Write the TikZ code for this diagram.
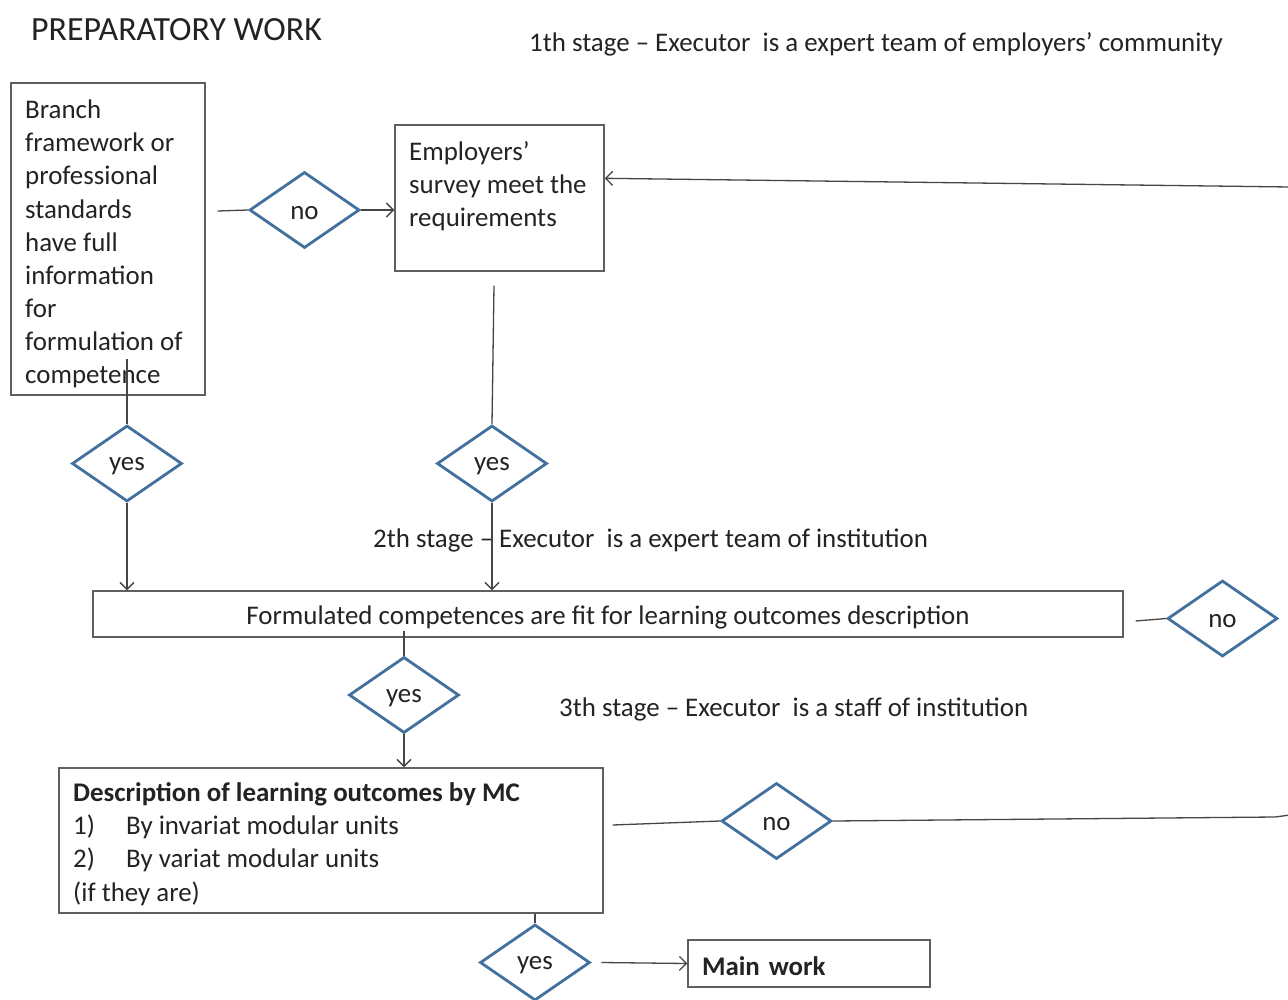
\documentclass[tikz,border=0pt]{standalone}
\usepackage{fontspec}
\setmainfont{Carlito}
\usetikzlibrary{shapes.geometric,arrows.meta,calc}

\definecolor{ink}{RGB}{35,35,35}
\definecolor{frame}{RGB}{95,95,95}
\definecolor{wire}{RGB}{70,70,70}
\definecolor{decblue}{RGB}{65,113,156}

% labels sit a little low inside their frames
\newcommand{\lowered}[1]{\raisebox{-3bp}[\height][\depth]{#1}}

\tikzset{
  txt/.style={text=ink,font=\fontsize{27}{33.3}\selectfont,inner sep=0pt},
  box/.style={draw=frame,line width=1.4bp,fill=white,text=ink,
              font=\fontsize{27}{33.3}\selectfont,inner sep=0pt},
  decision/.style={diamond,draw=decblue,line width=2.8bp,fill=white,
              minimum width=110bp,minimum height=76bp,inner sep=0pt,
              text=ink,font=\fontsize{27}{30}\selectfont},
  link/.style={draw=wire,line width=1.3bp},
  flow/.style={link,-{Straight Barb[length=7bp,width=14bp,line width=1.3bp]}},
}

\begin{document}
\begin{tikzpicture}[x=1bp,y=-1bp]
\useasboundingbox[fill=white] (0,0) rectangle (1288,1000);

% headings
\node[txt,anchor=west,font=\fontsize{34}{38}\selectfont] (title) at (31,30) {PREPARATORY WORK};
\node[txt,anchor=west] (stage1) at (529,44) {1th stage – Executor\ \ is a expert team of employers’ community};
\node[txt,anchor=west] (stage2) at (373,540) {2th stage – Executor\ \ is a expert team of institution};
\node[txt,anchor=west] (stage3) at (559,709) {3th stage – Executor\ \ is a staff of institution};

% first stage
\node[box,minimum width=194bp,minimum height=312bp] (A) at (108,239) {};
\node[txt,anchor=west,align=left] (Atext) at (25,244)
  {Branch\\framework or\\professional\\standards\\have full\\information\\for\\formulation of\\competence};
\node[box,minimum width=209bp,minimum height=146bp] (B) at (499.5,198) {};
\node[txt,anchor=north west,align=left] (Btext) at (409,141) {Employers’\\survey meet the\\requirements};

\node[decision] (no1) at (304.5,210) {\lowered{no}};
\node[decision] (yes1) at (127,463.5) {\lowered{yes}};
\node[decision] (yes2) at (492,463.5) {\lowered{yes}};

% second stage
\node[box,minimum width=1030bp,minimum height=46bp] (C) at (608,614)
  {\lowered{Formulated competences are fit for learning outcomes description}};
\node[decision] (no3) at (1222.5,618.5) {\lowered{no}};
\node[decision] (yes4) at (404,695) {\lowered{yes}};

% third stage
\node[box,minimum width=544bp,minimum height=145bp] (D) at (331,840.5) {};
\node[txt,anchor=west,align=left] (Dtext) at (73,844)
  {\textbf{Description of learning outcomes by MC}\\
   \makebox[53bp][l]{1)}By invariat modular units\\
   \makebox[53bp][l]{2)}By variat modular units\\
   (if they are)};
\node[decision] (no5) at (776.5,821) {\lowered{no}};
\node[decision] (yes6) at (535,962.5) {\lowered{yes}};
\node[box,minimum width=242bp,minimum height=47bp,text width=214bp,align=left,inner xsep=14bp] (M) at (809,963.5)
  {\lowered{\textbf{Main work}}};

% loose ends at the right margin
\coordinate (backIn) at (1290,187);
\coordinate (bend) at (1275,817);
\coordinate (backOut) at (1290,815);

% connectors
\draw[link] ($(A.east)+(12,-28)$) -- (no1.west);
\draw[flow] (no1.east) -- (B.west |- no1.east);
\draw[flow] (backIn) -- ($(B.north east)+(0,54)$);
\draw[link] ($(B.south)+(-5.5,14)$) -- (yes2.north);
\draw[link] ($(yes1.north)+(0,-65)$) -- (yes1.north);
\draw[flow] (yes1.south) -- (yes1.south |- C.north);
\draw[flow] (yes2.south) -- (yes2.south |- C.north);
\draw[link] ($(C.east)+(12,7)$) -- (no3.west);
\draw[link] ($(yes4.north |- C.south)+(0,-7)$) -- (yes4.north);
\draw[flow] (yes4.south) -- (yes4.south |- D.north);
\draw[link] ($(D.east)+(9,-15.5)$) -- (no5.west);
\draw[link] (no5.east) -- (bend) -- (backOut);
\draw[link] (yes6.north |- D.south) -- (yes6.north);
\draw[flow] ($(yes6.east)+(10,0)$) -- (M.west);
\end{tikzpicture}
\end{document}
